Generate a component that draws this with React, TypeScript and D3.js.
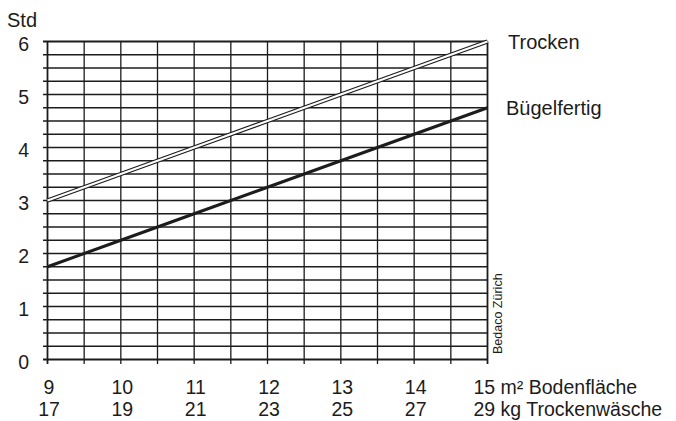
import React from "react";
import * as d3 from "d3";

const areaTicks = [9, 10, 11, 12, 13, 14, 15];
const laundryTicks = [17, 19, 21, 23, 25, 27, 29];
const hourTicks = [0, 1, 2, 3, 4, 5, 6];
const trocken = [3, 3.5, 4, 4.5, 5, 5.5, 6];
const buegelfertig = [1.75, 2.25, 2.75, 3.25, 3.75, 4.25, 4.75];
const areaUnit = "m² Bodenfläche";
const laundryUnit = "kg Trockenwäsche";
const seriesLabels = ["Trocken", "Bügelfertig"];

const W = 676;
const H = 421;
const FONT = "'Liberation Sans', Arial, sans-serif";
const INK = "#1c1c1c";

export default function App() {
  const x = d3.scaleLinear().domain([9, 15]).range([47.5, 487.5]);
  const y = d3.scaleLinear().domain([0, 6]).range([359.5, 41.5]);

  const vLines = d3.range(9, 15.001, 0.5);
  const hLines = d3.range(0, 6.001, 0.25);

  const line = d3
    .line<number>()
    .x((_, i) => x(areaTicks[i]))
    .y((d) => y(d));

  const lastY = (arr: number[]) => y(arr[arr.length - 1]);

  return (
    <svg
      width={W}
      height={H}
      style={{ position: "absolute", left: 0, top: 0, background: "#fff" }}
      fontFamily={FONT}
    >
      <rect width={W} height={H} fill="#fff" />
      {hLines.map((v) => (
        <line
          key={"h" + v}
          x1={x(9) - 4.5}
          x2={x(15)}
          y1={y(v)}
          y2={y(v)}
          stroke={INK}
          strokeWidth={v === 0 || v === 6 ? 1.8 : 1.3}
        />
      ))}
      {vLines.map((v) => (
        <line
          key={"v" + v}
          x1={x(v)}
          x2={x(v)}
          y1={y(6)}
          y2={y(0) + 4.5}
          stroke={INK}
          strokeWidth={v === 9 || v === 15 ? 1.8 : 1.3}
        />
      ))}
      <path d={line(trocken) || ""} fill="none" stroke={INK} strokeWidth={4.4} />
      <path d={line(trocken) || ""} fill="none" stroke="#fff" strokeWidth={2} />
      <path d={line(buegelfertig) || ""} fill="none" stroke={INK} strokeWidth={3} />

      <text x={7} y={27} fontSize={20} fill={INK}>
        Std
      </text>
      {hourTicks.map((v) => (
        <text
          key={"yt" + v}
          x={29}
          y={y(v) + 9}
          fontSize={19.5}
          textAnchor="end"
          fill={INK}
        >
          {v}
        </text>
      ))}

      {areaTicks.map((v, i) =>
        i < areaTicks.length - 1 ? (
          <text key={"xa" + v} x={x(v) + 1.5} y={394} fontSize={19.5} textAnchor="middle" fill={INK}>
            {v}
          </text>
        ) : (
          <text key={"xa" + v} x={x(v) - 14} y={394} fontSize={19.5} fill={INK}>
            {v + " " + areaUnit}
          </text>
        )
      )}
      {laundryTicks.map((v, i) =>
        i < laundryTicks.length - 1 ? (
          <text key={"xk" + v} x={x(areaTicks[i]) + 1.5} y={416} fontSize={19.5} textAnchor="middle" fill={INK}>
            {v}
          </text>
        ) : (
          <text key={"xk" + v} x={x(areaTicks[i]) - 14} y={416} fontSize={19.5} fill={INK}>
            {v + " " + laundryUnit}
          </text>
        )
      )}

      <text x={508} y={lastY(trocken) + 7} fontSize={20} fill={INK}>
        {seriesLabels[0]}
      </text>
      <text x={506} y={115} fontSize={20} fill={INK}>
        {seriesLabels[1]}
      </text>

      <text transform={`translate(502, 354) rotate(-90)`} fontSize={12.5} fill={INK}>
        Bedaco Zürich
      </text>
    </svg>
  );
}
